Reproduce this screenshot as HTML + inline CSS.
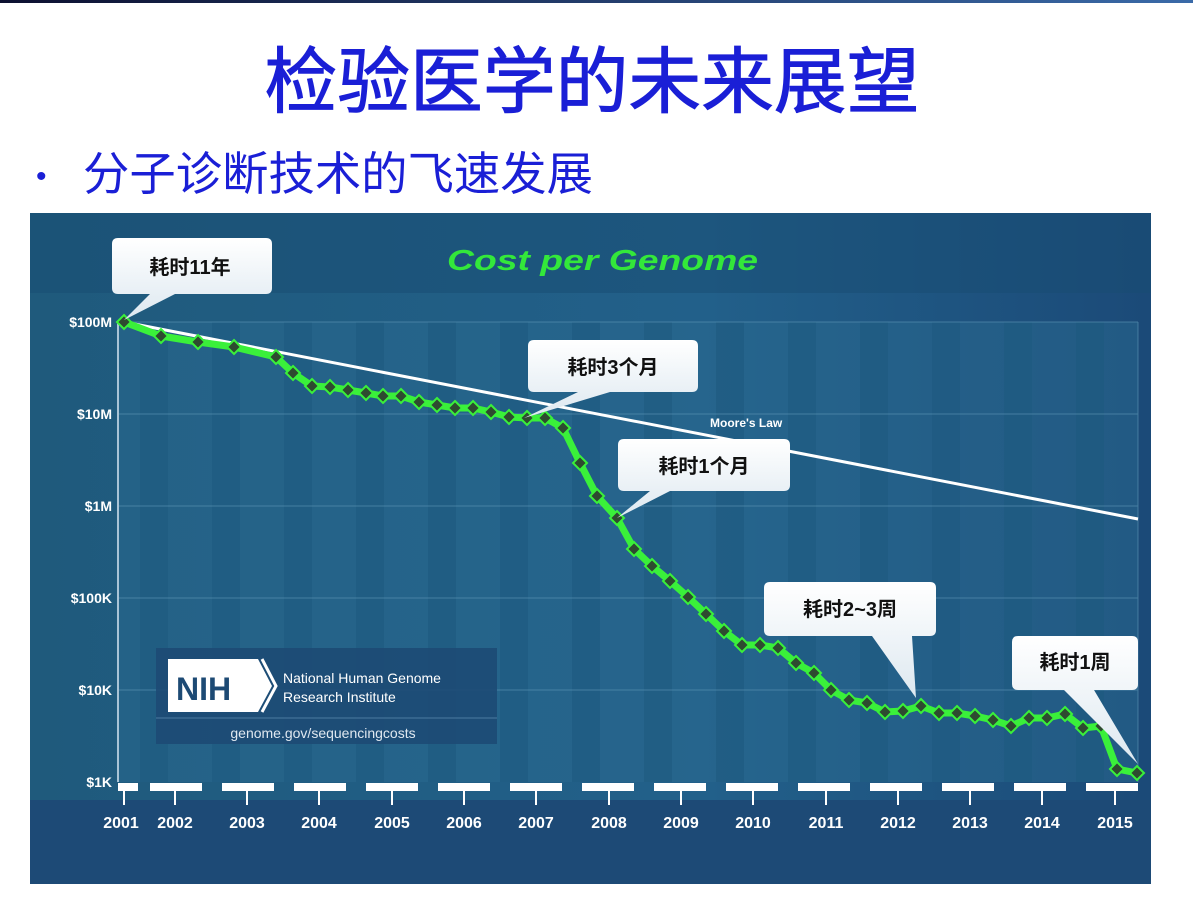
<!DOCTYPE html>
<html><head><meta charset="utf-8"><style>
body{margin:0;width:1193px;height:905px;background:#fff;overflow:hidden;font-family:"Liberation Sans","Noto Sans CJK SC",sans-serif;}
</style></head><body>
<svg width="1193" height="905" xmlns="http://www.w3.org/2000/svg" style="position:absolute;left:0;top:0">
<defs>
<linearGradient id="bg" x1="0" y1="0" x2="1" y2="0"><stop offset="0" stop-color="#1f5a7c"/><stop offset="0.6" stop-color="#22608a"/><stop offset="1" stop-color="#1b4a78"/></linearGradient>
<linearGradient id="bub" x1="0" y1="0" x2="0" y2="1"><stop offset="0" stop-color="#ffffff"/><stop offset="1" stop-color="#dde8f0"/></linearGradient>
<linearGradient id="top" x1="0" y1="0" x2="1" y2="0"><stop offset="0" stop-color="#0c1030"/><stop offset="1" stop-color="#3a6aa8"/></linearGradient>
</defs>
<rect x="0" y="0" width="1193" height="3" fill="url(#top)"/>
<text x="592" y="107" text-anchor="middle" font-size="72" fill="#1a1fd6" stroke="#1a1fd6" stroke-width="1" textLength="655" lengthAdjust="spacingAndGlyphs" font-family="Liberation Sans,Noto Sans CJK SC,sans-serif">检验医学的未来展望</text>
<text x="36" y="186" font-size="30" fill="#1a1fd6">•</text>
<text x="83" y="190" font-size="46" fill="#1a1fd6" textLength="510" lengthAdjust="spacingAndGlyphs" font-family="Liberation Sans,Noto Sans CJK SC,sans-serif">分子诊断技术的飞速发展</text>
<rect x="30" y="213" width="1121" height="671" fill="url(#bg)"/>
<rect x="30" y="213" width="1121" height="80" fill="#174c72" opacity="0.5"/>
<rect x="30" y="800" width="1121" height="84" fill="#1d4a76"/>
<rect x="118" y="322" width="1020" height="460" fill="#2a6a90" opacity="0.5"/>
<g fill="#1e5a80" opacity="0.6">
<rect x="140" y="322" width="28" height="460"/><rect x="212" y="322" width="28" height="460"/><rect x="284" y="322" width="28" height="460"/><rect x="356" y="322" width="28" height="460"/><rect x="428" y="322" width="28" height="460"/><rect x="500" y="322" width="28" height="460"/><rect x="572" y="322" width="28" height="460"/><rect x="644" y="322" width="28" height="460"/><rect x="716" y="322" width="28" height="460"/><rect x="788" y="322" width="28" height="460"/><rect x="860" y="322" width="28" height="460"/><rect x="932" y="322" width="28" height="460"/><rect x="1004" y="322" width="28" height="460"/><rect x="1076" y="322" width="28" height="460"/>
</g>
<g stroke="#5e96b6" stroke-width="1" opacity="0.6">
<line x1="118" y1="322" x2="1138" y2="322"/><line x1="118" y1="414" x2="1138" y2="414"/><line x1="118" y1="506" x2="1138" y2="506"/><line x1="118" y1="598" x2="1138" y2="598"/><line x1="118" y1="690" x2="1138" y2="690"/>
<line x1="1138" y1="322" x2="1138" y2="782"/>
</g>
<line x1="118" y1="322" x2="118" y2="782" stroke="#a9c4d6" stroke-width="2"/>
<g font-size="14" font-weight="bold" fill="#fff" text-anchor="end">
<text x="112" y="327">$100M</text><text x="112" y="419">$10M</text><text x="112" y="511">$1M</text><text x="112" y="603">$100K</text><text x="112" y="695">$10K</text><text x="112" y="787">$1K</text>
</g>
<text x="447" y="270" font-size="29" font-weight="bold" font-style="italic" fill="#33e83a" textLength="311" lengthAdjust="spacingAndGlyphs">Cost per Genome</text>
<line x1="124" y1="322" x2="1138" y2="519" stroke="#fff" stroke-width="3"/>
<text x="710" y="427" font-size="12" font-weight="bold" fill="#fff">Moore's Law</text>
<g fill="#fff">
<rect x="118" y="783" width="20" height="8"/><rect x="150" y="783" width="52" height="8"/><rect x="222" y="783" width="52" height="8"/><rect x="294" y="783" width="52" height="8"/><rect x="366" y="783" width="52" height="8"/><rect x="438" y="783" width="52" height="8"/><rect x="510" y="783" width="52" height="8"/><rect x="582" y="783" width="52" height="8"/><rect x="654" y="783" width="52" height="8"/><rect x="726" y="783" width="52" height="8"/><rect x="798" y="783" width="52" height="8"/><rect x="870" y="783" width="52" height="8"/><rect x="942" y="783" width="52" height="8"/><rect x="1014" y="783" width="52" height="8"/><rect x="1086" y="783" width="52" height="8"/>
</g>
<g stroke="#fff" stroke-width="2">
<line x1="124" y1="790" x2="124" y2="805"/><line x1="175" y1="790" x2="175" y2="805"/><line x1="247" y1="790" x2="247" y2="805"/><line x1="319" y1="790" x2="319" y2="805"/><line x1="392" y1="790" x2="392" y2="805"/><line x1="464" y1="790" x2="464" y2="805"/><line x1="536" y1="790" x2="536" y2="805"/><line x1="609" y1="790" x2="609" y2="805"/><line x1="681" y1="790" x2="681" y2="805"/><line x1="753" y1="790" x2="753" y2="805"/><line x1="826" y1="790" x2="826" y2="805"/><line x1="898" y1="790" x2="898" y2="805"/><line x1="970" y1="790" x2="970" y2="805"/><line x1="1042" y1="790" x2="1042" y2="805"/><line x1="1115" y1="790" x2="1115" y2="805"/>
</g>
<g font-size="16" font-weight="bold" fill="#fff" text-anchor="middle">
<text x="121" y="828">2001</text><text x="175" y="828">2002</text><text x="247" y="828">2003</text><text x="319" y="828">2004</text><text x="392" y="828">2005</text><text x="464" y="828">2006</text><text x="536" y="828">2007</text><text x="609" y="828">2008</text><text x="681" y="828">2009</text><text x="753" y="828">2010</text><text x="826" y="828">2011</text><text x="898" y="828">2012</text><text x="970" y="828">2013</text><text x="1042" y="828">2014</text><text x="1115" y="828">2015</text>
</g>
<rect x="156" y="648" width="341" height="96" fill="#1d4a74" opacity="0.9"/>
<line x1="156" y1="718" x2="497" y2="718" stroke="#4c7aa0"/>
<path d="M168 659 H258 L272 686 L258 712 H168 Z" fill="#fff"/>
<path d="M262 659 L276 686 L262 712" fill="none" stroke="#fff" stroke-width="3"/>
<text x="176" y="700" font-size="32" fill="#1d4a74" font-weight="bold">NIH</text>
<text x="283" y="683" font-size="14" fill="#fff">National Human Genome</text>
<text x="283" y="702" font-size="14" fill="#fff">Research Institute</text>
<text x="323" y="738" font-size="14" fill="#dfe8f0" text-anchor="middle">genome.gov/sequencingcosts</text>
<polyline fill="none" stroke="#3af03a" stroke-width="7" stroke-linejoin="round" points="124,322 161,336 198,342 234,347 276,357 293,373 312,386 330,387 348,390 366,393 383,396 401,396 419,402 437,405 455,408 473,408 491,412 509,417 527,418 545,418 563,428 580,463 597,496 617,518 634,549 652,566 670,581 688,597 706,614 724,631 742,645 760,645 778,648 796,663 814,673 831,690 849,700 867,703 885,712 903,711 921,706 939,713 957,713 975,716 993,720 1011,726 1029,718 1047,718 1065,714 1083,728 1101,726 1117,769 1137,773"/>
<g fill="#2e4a30" stroke="#3af03a" stroke-width="2" id="pts"></g>
<g font-size="20" font-weight="bold" fill="#111" font-family="Liberation Sans,Noto Sans CJK SC,sans-serif">
<path d="M118 238 H266 Q272 238 272 244 V288 Q272 294 266 294 H175 L124 320 L150 294 H118 Q112 294 112 288 V244 Q112 238 118 238 Z" fill="url(#bub)"/>
<text x="190" y="274" text-anchor="middle">耗时11年</text>
<path d="M534 340 H692 Q698 340 698 346 V386 Q698 392 692 392 H610 L524 418 L578 392 H534 Q528 392 528 386 V346 Q528 340 534 340 Z" fill="url(#bub)"/>
<text x="613" y="374" text-anchor="middle">耗时3个月</text>
<path d="M624 439 H784 Q790 439 790 445 V485 Q790 491 784 491 H670 L617 518 L650 491 H624 Q618 491 618 485 V445 Q618 439 624 439 Z" fill="url(#bub)"/>
<text x="704" y="473" text-anchor="middle">耗时1个月</text>
<path d="M770 582 H930 Q936 582 936 588 V630 Q936 636 930 636 H912 L916 698 L872 636 H770 Q764 636 764 630 V588 Q764 582 770 582 Z" fill="url(#bub)"/>
<text x="850" y="616" text-anchor="middle">耗时2~3周</text>
<path d="M1018 636 H1132 Q1138 636 1138 642 V684 Q1138 690 1132 690 H1094 L1138 764 L1064 690 H1018 Q1012 690 1012 684 V642 Q1012 636 1018 636 Z" fill="url(#bub)"/>
<text x="1075" y="669" text-anchor="middle">耗时1周</text>
</g>
</svg>
<script>
var p="124,322 161,336 198,342 234,347 276,357 293,373 312,386 330,387 348,390 366,393 383,396 401,396 419,402 437,405 455,408 473,408 491,412 509,417 527,418 545,418 563,428 580,463 597,496 617,518 634,549 652,566 670,581 688,597 706,614 724,631 742,645 760,645 778,648 796,663 814,673 831,690 849,700 867,703 885,712 903,711 921,706 939,713 957,713 975,716 993,720 1011,726 1029,718 1047,718 1065,714 1083,728 1101,726 1117,769 1137,773".split(" ");
var g=document.getElementById("pts"),s="";
p.forEach(function(q){var a=q.split(",");var x=+a[0],y=+a[1];s+='<path d="M'+x+' '+(y-7)+' L'+(x+7)+' '+y+' L'+x+' '+(y+7)+' L'+(x-7)+' '+y+' Z"/>';});
g.innerHTML=s;
</script>
</body></html>
